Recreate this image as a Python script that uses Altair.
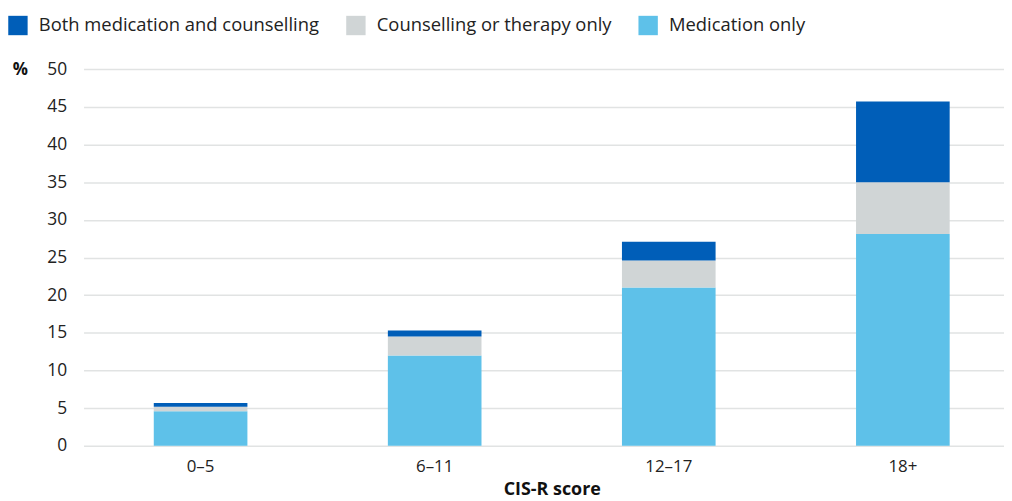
import altair as alt
import pandas as pd

groups = ["0–5", "6–11", "12–17", "18+"]
series = ["Both medication and counselling", "Counselling or therapy only", "Medication only"]
medication_only = [4.6, 12.0, 21.0, 28.1]
counselling_only = [0.6, 2.5, 3.6, 6.9]
both = [0.5, 0.8, 2.5, 10.7]
colors = ["#005EB8", "#D0D5D6", "#5EC1E9"]

rows = []
for i, g in enumerate(groups):
    rows.append({"group": g, "series": series[2], "value": medication_only[i], "ord": 0})
    rows.append({"group": g, "series": series[1], "value": counselling_only[i], "ord": 1})
    rows.append({"group": g, "series": series[0], "value": both[i], "ord": 2})
df = pd.DataFrame(rows)

FONT = "Open Sans"

chart = alt.Chart(df).mark_bar().encode(
    x=alt.X("group:N", sort=groups,
            scale=alt.Scale(paddingInner=0.6, paddingOuter=0.3, range=[0, 942]),
            axis=alt.Axis(title="CIS-R score", labelAngle=0, labelFontSize=17, labelPadding=13,
                          labelColor="#222", titleFontSize=18, titleFontWeight="bold",
                          titleColor="#111", titlePadding=6, ticks=False, domain=False)),
    y=alt.Y("value:Q", stack="zero",
            scale=alt.Scale(domain=[0, 50], nice=False),
            axis=alt.Axis(values=list(range(0, 51, 5)), title="%", titleAngle=0,
                          titleX=-64, titleY=0, titleAlign="center", titleBaseline="middle",
                          titleFontSize=17, titleFontWeight="bold", titleColor="#111",
                          labelFontSize=17.5, labelColor="#222", labelPadding=17,
                          ticks=False, domain=False, gridColor="#E1E3E3", gridWidth=1.5)),
    color=alt.Color("series:N", sort=series,
                    scale=alt.Scale(domain=series, range=colors),
                    legend=alt.Legend(title=None, orient="none", legendX=-76, legendY=-54,
                                      direction="horizontal", symbolType="square",
                                      symbolSize=380, symbolStrokeWidth=0, labelFontSize=18.5,
                                      labelLimit=0, labelColor="#222", columnPadding=26,
                                      labelOffset=11)),
    order=alt.Order("ord:Q"),
).properties(
    width=926, height=379,
    autosize=alt.AutoSizeParams(type="none"),
    padding={"left": 76, "top": 60, "right": 0, "bottom": 54},
).configure(font=FONT).configure_view(stroke=None)

chart.save("out.html", embed_options={"renderer": "svg", "actions": False})
